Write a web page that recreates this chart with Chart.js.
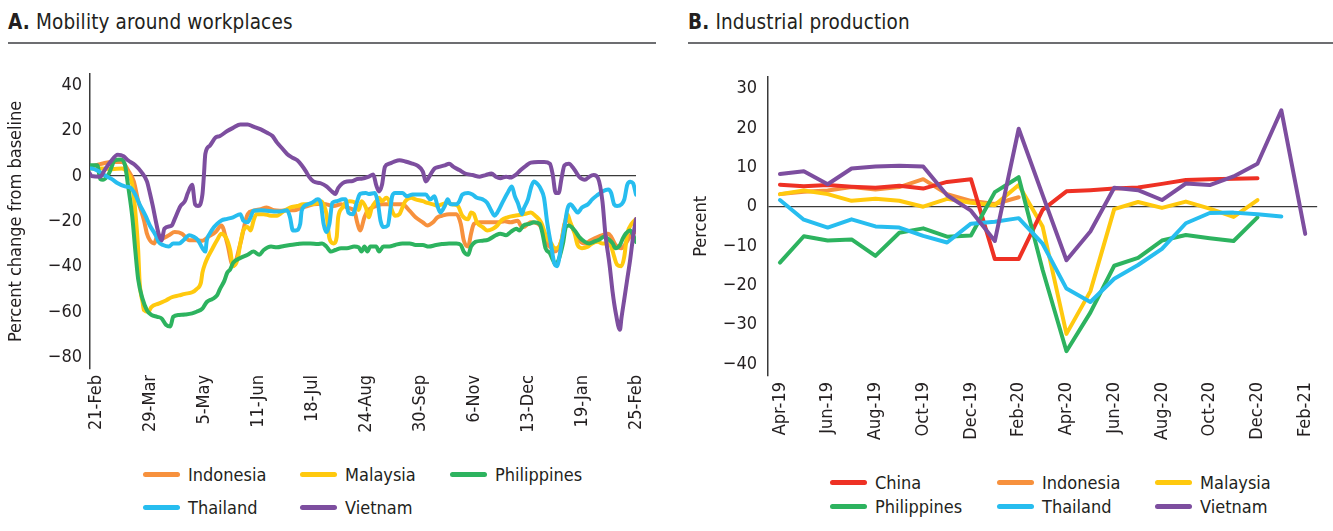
<!DOCTYPE html>
<html>
<head>
<meta charset="utf-8">
<script src="https://cdn.jsdelivr.net/npm/chart.js@4.4.1/dist/chart.umd.min.js"></script>
<style>
  body { margin: 0; width: 1333px; height: 531px; background: #fff; position: relative; overflow: hidden;
         font-family: "DejaVu Sans Condensed", "DejaVu Sans", sans-serif; color: #231f20; }
  .title { position: absolute; top: 9px; font-size: 20.5px; line-height: 26px; white-space: nowrap; letter-spacing: 0.15px; }
  .rule { position: absolute; top: 42px; height: 2px; background: #6d6e71; }
  canvas { position: absolute; }
  .legend { position: absolute; display: grid; font-size: 18px; }
  .item { display: flex; align-items: center; white-space: nowrap; }
  .swatch { width: 37px; height: 5px; border-radius: 3px; margin-right: 8px; }
</style>
</head>
<body>
<div class="title" style="left:8px"><b>A.</b> Mobility around workplaces</div>
<div class="rule" style="left:8px; width:648px"></div>
<div class="title" style="left:688px"><b>B.</b> Industrial production</div>
<div class="rule" style="left:688px; width:645px"></div>

<canvas id="chartA" width="665" height="395" style="left:0; top:55px"></canvas>
<canvas id="chartB" width="661" height="395" style="left:672px; top:55px"></canvas>

<div id="legendA" class="legend" style="left:143px; top:458px; grid-template-columns:157px 150px 150px; grid-auto-rows:33px"></div>
<div id="legendB" class="legend" style="left:830px; top:471px; grid-template-columns:167px 158px 158px; grid-auto-rows:23.5px"></div>

<script>
// ---- Panel A: mobility around workplaces, x = days since 21-Feb-2020 ----
const mobilityTickDays = [0, 37, 74, 111, 148, 185, 222, 259, 296, 333, 370];
const mobilityTickLabels = ['21-Feb', '29-Mar', '5-May', '11-Jun', '18-Jul', '24-Aug',
                            '30-Sep', '6-Nov', '13-Dec', '19-Jan', '25-Feb'];
const mobilityYTicks = [-80, -60, -40, -20, 0, 20, 40];

const indonesiaMobility = [[-4,4.4],[-3,4.4],[4,5.4],[11,6.2],[18,6.2],[22,2.6],[26,-2.4],[29,-11],[33,-19.6],[35,-25.4],[37,-28.3],[40,-29.7],[42,-26.8],[45,-27.5],[50,-26.1],[54,-24.7],[59,-25.4],[64,-28.3],[68,-28.3],[73,-28.5],[77,-26.8],[82,-24.7],[86,-21.8],[90,-29.7],[94,-39.7],[99,-29.7],[104,-16.8],[108,-15.3],[113,-14.6],[117,-13.9],[122,-15.1],[126,-15.3],[131,-15.1],[136,-15.1],[140,-14.2],[145,-13.2],[149,-12.5],[154,-12.2],[158,-12.5],[163,-13.2],[168,-12.5],[172,-13.9],[177,-15.3],[179,-20.4],[181,-24],[184,-18.2],[186,-15.4],[189,-14],[192,-13.2],[196,-12.5],[201,-12.5],[205,-12.5],[210,-12.5],[215,-15.4],[219,-18.2],[224,-20.4],[227,-21.8],[231,-20.4],[234,-18.2],[237,-17.5],[242,-16.8],[247,-16.8],[250,-21.1],[252,-28.3],[255,-31.1],[257,-25.4],[259,-21.1],[263,-20.4],[267,-20.4],[272,-20.4],[275,-20.4],[280,-19.9],[284,-20.4],[289,-19.7],[291,-21.8],[293,-22.5],[296,-21.1],[298,-20.4],[303,-21.1],[307,-25.4],[309,-29.7],[312,-31.8],[314,-33.3],[316,-32.6],[319,-28.3],[321,-21.1],[323,-19],[325,-21.1],[328,-24.7],[331,-28.3],[335,-29.7],[339,-28.3],[344,-26.8],[347,-26.1],[351,-25.4],[353,-26.8],[356,-30.4],[360,-31.8],[363,-29.7],[367,-25.4],[370,-24.7]];

const malaysiaMobility = [[-4,3.3],[-3,3.3],[4,3.3],[11,3],[18,3.3],[21,1.9],[25,-3.9],[27,-15.4],[29,-32.6],[30,-46.9],[32,-55.5],[33,-59.1],[36,-59.8],[38,-57.7],[43,-56.2],[48,-54.8],[52,-53.4],[57,-52.6],[61,-51.9],[66,-51.2],[69,-49.8],[72,-46.9],[73,-42.6],[75,-38.3],[77,-35.4],[80,-31.8],[83,-28.3],[86,-25.4],[89,-27],[92,-32.6],[94,-39.7],[97,-36.9],[99,-29.7],[101,-24],[104,-22.5],[106,-24],[108,-19.7],[110,-16.8],[115,-16.8],[120,-17.5],[124,-17.5],[129,-15.3],[133,-13.9],[138,-13.2],[142,-12.5],[147,-12.5],[152,-11.8],[154,-11.1],[156,-12.5],[158,-16.8],[160,-27.5],[163,-29.7],[165,-26.8],[166,-18.2],[169,-13.9],[171,-11.8],[174,-11.1],[178,-12],[180,-15],[182,-11.1],[185,-14],[187,-18.2],[189,-14],[192,-11.1],[194,-9.6],[196,-11.1],[199,-9.6],[201,-11.1],[203,-15.4],[205,-17.5],[208,-16.8],[210,-13.9],[212,-11.1],[216,-9.6],[219,-10.3],[224,-11.1],[227,-11.8],[231,-12.5],[234,-13.2],[237,-12.5],[241,-11.8],[244,-12.5],[248,-13.2],[251,-17.5],[255,-19],[257,-16.1],[259,-16.8],[261,-20.4],[265,-22.5],[268,-24],[272,-23.2],[275,-21.8],[278,-19.4],[282,-18.2],[287,-17.5],[291,-17.1],[295,-16.5],[298,-16.1],[301,-17.5],[305,-20.4],[307,-24],[309,-27.5],[312,-29.7],[314,-31.8],[316,-31.8],[319,-28.3],[321,-21.8],[323,-16.8],[325,-20.4],[328,-25.4],[330,-30.4],[333,-31.8],[337,-31.1],[340,-29.7],[344,-29],[347,-29.7],[351,-29.7],[353,-31.1],[355,-35.4],[357,-39],[360,-39.7],[362,-35.4],[364,-25.4],[367,-21.1],[370,-19]];

const philippinesMobility = [[-4,4.7],[-3,4.7],[1,4.7],[3,-1.3],[5,-1.7],[9,1.1],[13,6.9],[17,7.3],[20,4.7],[22,-3.9],[25,-18.2],[27,-32.6],[29,-45.5],[32,-54.1],[35,-59.1],[38,-61.2],[42,-62],[45,-62.7],[48,-65.5],[51,-66.3],[53,-62],[57,-61.2],[61,-61],[66,-60.5],[69,-59.8],[73,-58.4],[76,-55.5],[80,-54.1],[83,-52.6],[85,-49.8],[88,-46.2],[90,-42.6],[92,-41.2],[94,-38.3],[99,-36.1],[104,-34.7],[108,-33.3],[112,-34.7],[115,-32.6],[120,-31.1],[124,-31.4],[129,-30.8],[133,-30.4],[138,-30],[142,-29.7],[147,-29.7],[152,-30],[155,-29.7],[158,-31.1],[161,-33.3],[164,-32.6],[168,-31.8],[172,-31.8],[177,-31.1],[180,-31.4],[182,-33.3],[184,-31.1],[186,-33.3],[188,-31.1],[192,-31.1],[194,-33.3],[197,-31.1],[201,-31.1],[205,-30.4],[210,-29.7],[215,-29.7],[219,-30.4],[224,-30.4],[228,-31.1],[233,-30.4],[237,-30],[242,-29.7],[247,-29.7],[250,-30.4],[252,-33.3],[255,-34.7],[257,-31.1],[260,-29],[265,-28.5],[269,-28],[274,-26.1],[277,-25.4],[281,-26.1],[284,-24.7],[288,-23.2],[290,-24],[293,-21.8],[297,-21.1],[300,-20.4],[304,-21.1],[306,-25.4],[308,-31.8],[311,-34],[313,-36.9],[315,-39],[317,-36.9],[320,-29.7],[322,-22.5],[324,-21.8],[328,-24],[331,-26.8],[335,-29],[338,-29.7],[341,-29],[345,-28],[348,-26.8],[352,-28.3],[354,-29.7],[356,-31.8],[359,-30.4],[361,-27.5],[363,-25.4],[366,-24],[368,-26.1],[370,-29]];

const thailandMobility = [[-4,3.3],[-3,3.3],[2,2.1],[6,0.3],[11,-1.4],[15,-3.2],[20,-4.6],[24,-5.3],[27,-8.2],[30,-12.5],[34,-17.5],[37,-21.8],[41,-26.1],[43,-29],[46,-30.4],[50,-31.1],[53,-29.7],[57,-29.7],[60,-28.3],[64,-26.1],[67,-26.8],[70,-28.3],[73,-31.8],[75,-33.3],[76,-28.3],[78,-25.4],[81,-22.5],[83,-21.1],[86,-19.6],[90,-18.9],[94,-18.2],[99,-16.8],[101,-19.7],[104,-20.4],[106,-18.2],[108,-15.3],[113,-15.1],[117,-15.3],[122,-15.6],[126,-15.6],[131,-15.1],[133,-18.2],[135,-24],[137,-24],[140,-21.1],[141,-15.3],[145,-12.5],[148,-11.8],[152,-10.3],[154,-11.8],[156,-21.1],[158,-24.7],[160,-21.1],[162,-11.8],[165,-11.1],[169,-10.3],[171,-10.3],[173,-16.1],[176,-16.8],[179,-11.1],[181,-7.9],[185,-7.5],[187,-7.9],[191,-7.5],[193,-11.1],[195,-19.7],[197,-22.5],[200,-21.8],[202,-13.2],[203,-8.9],[205,-7.5],[210,-7.5],[213,-8.9],[217,-8.2],[221,-8.2],[226,-8.2],[229,-10.3],[232,-8.9],[234,-13.2],[236,-16.1],[239,-13.2],[241,-10.3],[243,-12.5],[247,-12.5],[249,-11.1],[251,-8.2],[255,-7.5],[258,-8.2],[261,-9.6],[265,-10.3],[268,-11.8],[271,-15.4],[273,-17.5],[275,-16.1],[279,-11.1],[282,-7.5],[285,-4.6],[287,-8.9],[289,-11.8],[292,-16.8],[293,-14.6],[296,-10.3],[298,-5.3],[300,-2.4],[303,-3.9],[305,-6],[307,-9.6],[309,-19.7],[312,-31.1],[314,-38.3],[316,-39.7],[317,-37.6],[319,-29.7],[321,-22.5],[323,-14.6],[325,-12.5],[328,-14.6],[330,-16.1],[333,-13.9],[337,-12.5],[340,-10.3],[344,-8.2],[347,-6.8],[351,-6],[353,-7.5],[355,-12.5],[357,-13.2],[360,-12.5],[362,-10.3],[364,-3.9],[366,-2.5],[368,-3.2],[370,-8.2]];

const vietnamMobility = [[-4,1],[-3,0],[3,-0.3],[6,2.6],[10,6.2],[15,9.3],[19,8.7],[22,6.9],[27,4.7],[31,1.9],[35,-2.4],[37,-7.5],[39,-13.2],[41,-19.6],[43,-25.4],[45,-28.3],[47,-23.2],[52,-21.8],[54,-19],[58,-13.2],[61,-11.1],[63,-7.5],[66,-3.9],[68,-12.5],[70,-13.2],[73,-8.2],[74,0],[75,9.7],[78,13.3],[82,16.9],[85,17.6],[90,19.8],[94,21.2],[99,22.7],[104,22.7],[108,21.7],[113,20.5],[117,19.1],[121,17.6],[124,14.8],[128,11.9],[131,9.7],[134,8.3],[138,6.9],[141,4.7],[144,1.9],[146,-0.3],[149,-2.4],[154,-3.2],[158,-4.6],[162,-7],[164,-7.9],[166,-5.3],[169,-3.2],[172,-2.4],[176,-2.2],[179,-1.3],[182,-1.2],[187,-0.3],[190,0.7],[192,-3.9],[194,-6.8],[196,-3.9],[198,4],[201,5.4],[204,6.2],[208,6.9],[212,6.4],[217,5.4],[220,4.7],[224,1.9],[226,-2.4],[229,0.4],[232,3.3],[235,4],[239,4.7],[242,5.4],[245,4],[249,2.6],[253,1.1],[258,0.4],[263,-0.3],[267,0.4],[271,1.1],[274,-0.3],[277,-1],[281,-0.3],[284,-0.7],[288,0.7],[291,2.6],[295,4.7],[298,5.9],[303,6.2],[307,6.2],[311,5.4],[313,0.4],[315,-7.5],[317,-7.5],[319,-1],[321,4.7],[324,5.4],[328,2.6],[331,-0.3],[335,-1.7],[338,-0.3],[341,0.4],[344,-1],[347,-11.1],[349,-25.4],[352,-39.7],[354,-51.2],[356,-59.8],[359,-67.7],[360,-62.7],[362,-54.1],[364,-45.5],[366,-36.9],[368,-26.8],[370,-19]];

// ---- Panel B: industrial production, percent ----
const productionMonths = ['Apr-19', 'May-19', 'Jun-19', 'Jul-19', 'Aug-19', 'Sep-19', 'Oct-19', 'Nov-19',
                          'Dec-19', 'Jan-20', 'Feb-20', 'Mar-20', 'Apr-20', 'May-20', 'Jun-20', 'Jul-20',
                          'Aug-20', 'Sep-20', 'Oct-20', 'Nov-20', 'Dec-20', 'Jan-21', 'Feb-21'];
const productionYTicks = [-40, -30, -20, -10, 0, 10, 20, 30];

const chinaProduction = [5.6, 5.2, 5.5, 5.1, 4.8, 5.3, 4.6, 6.3, 7.0, -13.3, -13.3, -0.8, 3.9, 4.2, 4.6, 4.9, 5.8, 6.8, 7.0, 7.1, 7.2, null, null];
const indonesiaProduction = [3.2, 3.8, 4.1, 5.0, 4.4, 5.0, 7.0, 3.2, 1.5, 0.7, 2.4, null, null, null, null, null, null, null, null, null, null, null, null];
const malaysiaProduction = [3.2, 4.1, 3.2, 1.5, 2.0, 1.5, 0.0, 2.0, 1.0, 0.4, 5.5, -5.0, -32.3, -21.5, -0.6, 1.2, -0.3, 1.3, -0.5, -2.6, 1.7, null, null];
const philippinesProduction = [-14.2, -7.5, -8.6, -8.3, -12.5, -6.6, -5.5, -7.6, -7.3, 3.7, 7.5, -16.0, -36.7, -26.9, -15.0, -13.0, -8.6, -7.2, -8.0, -8.7, -2.7, null, null];
const thailandProduction = [1.7, -3.3, -5.3, -3.2, -5.0, -5.3, -7.4, -9.1, -4.3, -3.8, -2.9, -9.4, -20.8, -24.2, -18.3, -14.8, -10.7, -4.2, -1.6, -1.5, -1.9, -2.5, null];
const vietnamProduction = [8.3, 9.0, 5.7, 9.7, 10.2, 10.4, 10.2, 2.9, -1.0, -8.7, 19.8, 3.0, -13.6, -6.3, 4.8, 4.2, 1.7, 5.9, 5.5, 7.7, 10.9, 24.5, -6.9];

const COLORS = {
  China: '#ee3124', Indonesia: '#f7913d', Malaysia: '#ffc90e',
  Philippines: '#2db35f', Thailand: '#27bdef', Vietnam: '#7d4e9f'
};
const FONT = '"DejaVu Sans Condensed", "DejaVu Sans", sans-serif';
const TEXT = '#231f20';
const tickFont = { family: FONT, size: 18 };

function signed(v) {
  return v < 0 ? '\u2212' + Math.abs(v) : String(v);
}

function lineSet(name, data, order, smooth) {
  return {
    label: name,
    data: data,
    borderColor: COLORS[name],
    borderWidth: 4,
    pointRadius: 0,
    fill: false,
    order: order,
    borderJoinStyle: 'round',
    borderCapStyle: 'round',
    cubicInterpolationMode: smooth ? 'monotone' : 'default',
    tension: 0,
  };
}

function yAxis(ticks, min, max, width, title, pad) {
  return {
    min: min,
    max: max,
    afterBuildTicks: s => { s.ticks = ticks.map(v => ({ value: v })); },
    afterFit: s => { s.width = width; },
    border: { display: true, color: '#3a3a3a', width: 1.5 },
    grid: {
      drawTicks: false,
      lineWidth: 1.3,
      color: c => (c.tick && c.tick.value === 0) ? '#3a3a3a' : 'rgba(0,0,0,0)',
    },
    ticks: { padding: pad, color: TEXT, font: tickFont, callback: v => signed(v) },
    title: { display: true, text: title, color: TEXT, font: tickFont, padding: { top: 6, bottom: 0 } },
  };
}

function makeLegend(id, names) {
  const box = document.getElementById(id);
  names.forEach(name => {
    const item = document.createElement('div');
    item.className = 'item';
    item.innerHTML = '<span class="swatch" style="background:' + COLORS[name] + '"></span>' + name;
    box.appendChild(item);
  });
}

// Panel A chart
const pts = arr => arr.map(p => ({ x: p[0], y: p[1] }));
new Chart(document.getElementById('chartA'), {
  type: 'line',
  data: {
    datasets: [
      lineSet('Vietnam', pts(vietnamMobility), 1, true),
      lineSet('Thailand', pts(thailandMobility), 2, true),
      lineSet('Philippines', pts(philippinesMobility), 3, true),
      lineSet('Malaysia', pts(malaysiaMobility), 4, true),
      lineSet('Indonesia', pts(indonesiaMobility), 5, true),
    ]
  },
  options: {
    responsive: false,
    animation: false,
    layout: { padding: { left: 0, right: 29, top: 12, bottom: 0 } },
    plugins: { legend: { display: false }, tooltip: { enabled: false } },
    scales: {
      x: {
        type: 'linear',
        min: -4,
        max: 370,
        grid: { display: false, drawTicks: false },
        border: { display: false },
        afterBuildTicks: s => { s.ticks = mobilityTickDays.map(v => ({ value: v })); },
        afterFit: s => { s.height = 81; },
        ticks: {
          autoSkip: false, minRotation: 90, maxRotation: 90, padding: 6,
          color: TEXT, font: tickFont,
          callback: (v, i) => mobilityTickLabels[i],
        },
      },
      y: yAxis(mobilityYTicks, -85, 45, 90, 'Percent change from baseline', 8),
    },
  },
});

// Panel B chart
new Chart(document.getElementById('chartB'), {
  type: 'line',
  data: {
    labels: productionMonths,
    datasets: [
      lineSet('Vietnam', vietnamProduction, 1, false),
      lineSet('Thailand', thailandProduction, 2, false),
      lineSet('Philippines', philippinesProduction, 3, false),
      lineSet('China', chinaProduction, 4, false),
      lineSet('Malaysia', malaysiaProduction, 5, false),
      lineSet('Indonesia', indonesiaProduction, 6, false),
    ]
  },
  options: {
    responsive: false,
    animation: false,
    layout: { padding: { left: 13, right: 8, top: 19, bottom: 0 } },
    plugins: { legend: { display: false }, tooltip: { enabled: false } },
    scales: {
      x: {
        offset: true,
        grid: { display: false, drawTicks: false },
        border: { display: false },
        afterFit: s => { s.height = 74; },
        ticks: {
          autoSkip: false, minRotation: 90, maxRotation: 90, padding: 6,
          color: TEXT, font: tickFont,
          callback: (v, i) => (i % 2 === 0 ? productionMonths[i] : ''),
        },
      },
      y: yAxis(productionYTicks, -43, 33, 83, 'Percent', 11),
    },
  },
});

makeLegend('legendA', ['Indonesia', 'Malaysia', 'Philippines', 'Thailand', 'Vietnam']);
makeLegend('legendB', ['China', 'Indonesia', 'Malaysia', 'Philippines', 'Thailand', 'Vietnam']);
</script>
</body>
</html>
